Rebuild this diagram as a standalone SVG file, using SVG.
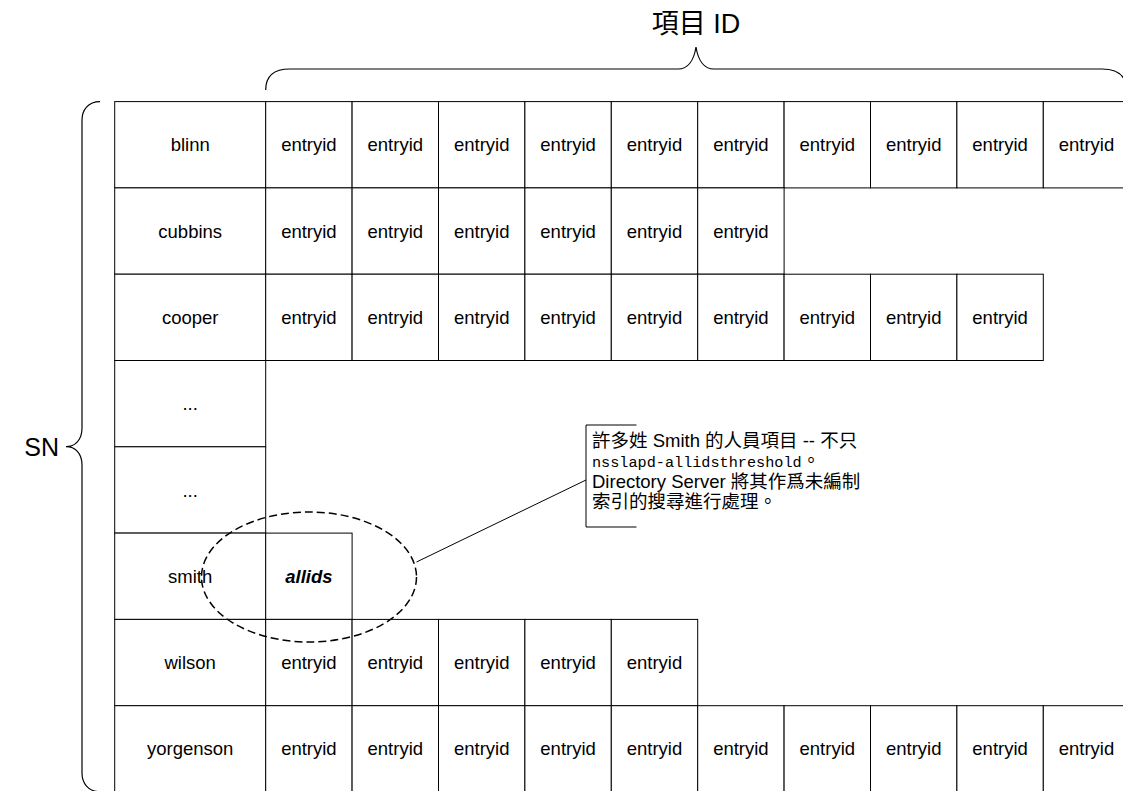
<svg xmlns="http://www.w3.org/2000/svg" width="1123" height="791" viewBox="0 0 1123 791">
<style>
.bg{fill:#fff}
.cell{fill:#fff;stroke:#000;stroke-width:1}
.t{font-family:"Liberation Sans",Arial,"Noto Sans CJK TC",sans-serif;font-size:18.5px;fill:#000;text-anchor:middle}
.b{font-weight:bold;font-style:italic}
.brace{fill:none;stroke:#000;stroke-width:1.2}
.note{font-family:"Liberation Sans",Arial,"Noto Sans CJK TC",sans-serif;font-size:18.5px;fill:#000}
.mono{font-family:"Liberation Mono","Courier New",monospace;font-size:15.2px}
.big{font-family:"Liberation Sans",Arial,"Noto Sans CJK TC",sans-serif;font-size:27px;fill:#000}
.sn{font-family:"Liberation Sans",Arial,sans-serif;font-size:25px;fill:#000}
</style>
<rect class="bg" x="0" y="0" width="1123" height="791"/>

<g id="header">
<path class="brace" d="M265.7,90 C265.7,76 274,69 290,69 L678,69 C688,69 694,60 696,47 C698,60 704,69 714,69 L1102,69 C1118,69 1126.3,76 1126.3,90"/>
<text class="big" x="696" y="33" text-anchor="middle">項目 ID</text>
</g>

<g id="sn">
<path class="brace" d="M100,101.6 C88,101.6 82,110 82,120 L82,428 C82,440 75,446.7 66,446.7 C75,446.7 82,453 82,465 L82,773 C82,783 88,791.7 100,791.7"/>
<text class="sn" x="59" y="455.5" text-anchor="end">SN</text>
</g>

<g id="row-blinn">
<rect class="cell" x="114.7" y="101.6" width="151" height="86.3"/>
<rect class="cell" x="265.7" y="101.6" width="86.4" height="86.3"/>
<rect class="cell" x="352.1" y="101.6" width="86.4" height="86.3"/>
<rect class="cell" x="438.5" y="101.6" width="86.4" height="86.3"/>
<rect class="cell" x="524.9" y="101.6" width="86.4" height="86.3"/>
<rect class="cell" x="611.3" y="101.6" width="86.4" height="86.3"/>
<rect class="cell" x="697.7" y="101.6" width="86.4" height="86.3"/>
<rect class="cell" x="784.1" y="101.6" width="86.4" height="86.3"/>
<rect class="cell" x="870.5" y="101.6" width="86.4" height="86.3"/>
<rect class="cell" x="956.9" y="101.6" width="86.4" height="86.3"/>
<rect class="cell" x="1043.3" y="101.6" width="86.4" height="86.3"/>
<text class="t" x="190.2" y="151.3">blinn</text>
<text class="t" x="308.9" y="151.3">entryid</text>
<text class="t" x="395.3" y="151.3">entryid</text>
<text class="t" x="481.7" y="151.3">entryid</text>
<text class="t" x="568.1" y="151.3">entryid</text>
<text class="t" x="654.5" y="151.3">entryid</text>
<text class="t" x="740.9" y="151.3">entryid</text>
<text class="t" x="827.3" y="151.3">entryid</text>
<text class="t" x="913.7" y="151.3">entryid</text>
<text class="t" x="1000.1" y="151.3">entryid</text>
<text class="t" x="1086.5" y="151.3">entryid</text>
</g>

<g id="row-cubbins">
<rect class="cell" x="114.7" y="187.9" width="151" height="86.3"/>
<rect class="cell" x="265.7" y="187.9" width="86.4" height="86.3"/>
<rect class="cell" x="352.1" y="187.9" width="86.4" height="86.3"/>
<rect class="cell" x="438.5" y="187.9" width="86.4" height="86.3"/>
<rect class="cell" x="524.9" y="187.9" width="86.4" height="86.3"/>
<rect class="cell" x="611.3" y="187.9" width="86.4" height="86.3"/>
<rect class="cell" x="697.7" y="187.9" width="86.4" height="86.3"/>
<text class="t" x="190.2" y="237.6">cubbins</text>
<text class="t" x="308.9" y="237.6">entryid</text>
<text class="t" x="395.3" y="237.6">entryid</text>
<text class="t" x="481.7" y="237.6">entryid</text>
<text class="t" x="568.1" y="237.6">entryid</text>
<text class="t" x="654.5" y="237.6">entryid</text>
<text class="t" x="740.9" y="237.6">entryid</text>
</g>

<g id="row-cooper">
<rect class="cell" x="114.7" y="274.2" width="151" height="86.3"/>
<rect class="cell" x="265.7" y="274.2" width="86.4" height="86.3"/>
<rect class="cell" x="352.1" y="274.2" width="86.4" height="86.3"/>
<rect class="cell" x="438.5" y="274.2" width="86.4" height="86.3"/>
<rect class="cell" x="524.9" y="274.2" width="86.4" height="86.3"/>
<rect class="cell" x="611.3" y="274.2" width="86.4" height="86.3"/>
<rect class="cell" x="697.7" y="274.2" width="86.4" height="86.3"/>
<rect class="cell" x="784.1" y="274.2" width="86.4" height="86.3"/>
<rect class="cell" x="870.5" y="274.2" width="86.4" height="86.3"/>
<rect class="cell" x="956.9" y="274.2" width="86.4" height="86.3"/>
<text class="t" x="190.2" y="323.9">cooper</text>
<text class="t" x="308.9" y="323.9">entryid</text>
<text class="t" x="395.3" y="323.9">entryid</text>
<text class="t" x="481.7" y="323.9">entryid</text>
<text class="t" x="568.1" y="323.9">entryid</text>
<text class="t" x="654.5" y="323.9">entryid</text>
<text class="t" x="740.9" y="323.9">entryid</text>
<text class="t" x="827.3" y="323.9">entryid</text>
<text class="t" x="913.7" y="323.9">entryid</text>
<text class="t" x="1000.1" y="323.9">entryid</text>
</g>

<g id="row-ellipsis1">
<rect class="cell" x="114.7" y="360.5" width="151" height="86.3"/>
<text class="t" x="190.2" y="410.2">...</text>
</g>

<g id="row-ellipsis2">
<rect class="cell" x="114.7" y="446.8" width="151" height="86.3"/>
<text class="t" x="190.2" y="496.5">...</text>
</g>

<g id="row-smith">
<rect class="cell" x="114.7" y="533.1" width="151" height="86.3"/>
<rect class="cell" x="265.7" y="533.1" width="86.4" height="86.3"/>
<text class="t" x="190.2" y="582.8">smith</text>
<text class="t b" x="308.9" y="582.8">allids</text>
</g>

<g id="row-wilson">
<rect class="cell" x="114.7" y="619.4" width="151" height="86.3"/>
<rect class="cell" x="265.7" y="619.4" width="86.4" height="86.3"/>
<rect class="cell" x="352.1" y="619.4" width="86.4" height="86.3"/>
<rect class="cell" x="438.5" y="619.4" width="86.4" height="86.3"/>
<rect class="cell" x="524.9" y="619.4" width="86.4" height="86.3"/>
<rect class="cell" x="611.3" y="619.4" width="86.4" height="86.3"/>
<text class="t" x="190.2" y="669.1">wilson</text>
<text class="t" x="308.9" y="669.1">entryid</text>
<text class="t" x="395.3" y="669.1">entryid</text>
<text class="t" x="481.7" y="669.1">entryid</text>
<text class="t" x="568.1" y="669.1">entryid</text>
<text class="t" x="654.5" y="669.1">entryid</text>
</g>

<g id="row-yorgenson">
<rect class="cell" x="114.7" y="705.7" width="151" height="86.3"/>
<rect class="cell" x="265.7" y="705.7" width="86.4" height="86.3"/>
<rect class="cell" x="352.1" y="705.7" width="86.4" height="86.3"/>
<rect class="cell" x="438.5" y="705.7" width="86.4" height="86.3"/>
<rect class="cell" x="524.9" y="705.7" width="86.4" height="86.3"/>
<rect class="cell" x="611.3" y="705.7" width="86.4" height="86.3"/>
<rect class="cell" x="697.7" y="705.7" width="86.4" height="86.3"/>
<rect class="cell" x="784.1" y="705.7" width="86.4" height="86.3"/>
<rect class="cell" x="870.5" y="705.7" width="86.4" height="86.3"/>
<rect class="cell" x="956.9" y="705.7" width="86.4" height="86.3"/>
<rect class="cell" x="1043.3" y="705.7" width="86.4" height="86.3"/>
<text class="t" x="190.2" y="755.4">yorgenson</text>
<text class="t" x="308.9" y="755.4">entryid</text>
<text class="t" x="395.3" y="755.4">entryid</text>
<text class="t" x="481.7" y="755.4">entryid</text>
<text class="t" x="568.1" y="755.4">entryid</text>
<text class="t" x="654.5" y="755.4">entryid</text>
<text class="t" x="740.9" y="755.4">entryid</text>
<text class="t" x="827.3" y="755.4">entryid</text>
<text class="t" x="913.7" y="755.4">entryid</text>
<text class="t" x="1000.1" y="755.4">entryid</text>
<text class="t" x="1086.5" y="755.4">entryid</text>
</g>

<g id="highlight">
<ellipse cx="309" cy="577" rx="107.5" ry="65" fill="none" stroke="#000" stroke-width="1.5" stroke-dasharray="8,4"/>
</g>

<g id="connectors">
<line x1="416.5" y1="562" x2="586" y2="480" stroke="#000" stroke-width="1"/>
</g>

<g id="callout">
<path d="M636.5,425 L586,425 L586,527 L636.5,527" fill="none" stroke="#000" stroke-width="1"/>
<text class="note" x="592" y="447">許多姓 Smith 的人員項目 -- 不只</text>
<text class="note" x="592" y="467"><tspan class="mono">nsslapd-allidsthreshold</tspan>。</text>
<text class="note" x="592" y="488">Directory Server 將其作爲未編制</text>
<text class="note" x="592" y="508">索引的搜尋進行處理。</text>
</g>
</svg>
